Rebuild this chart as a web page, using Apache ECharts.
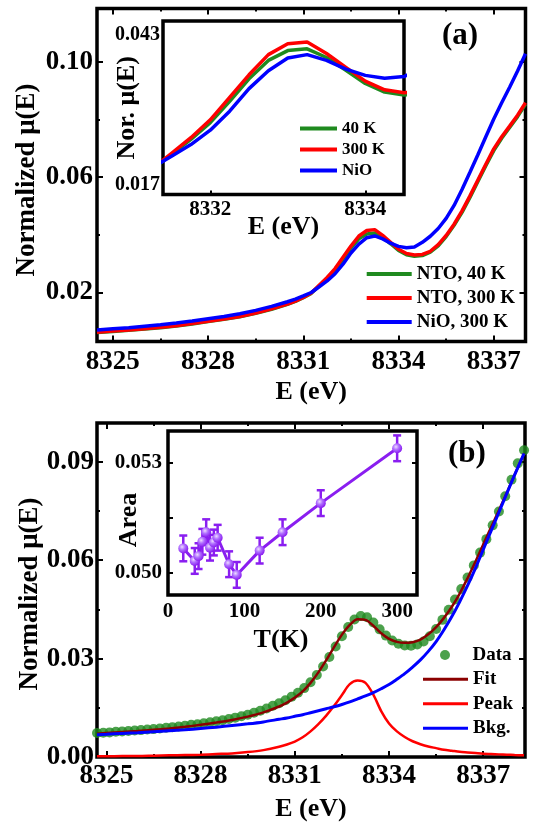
<!DOCTYPE html>
<html>
<head>
<meta charset="utf-8">
<script src="https://cdn.jsdelivr.net/npm/echarts@6/dist/echarts.min.js"></script>
<style>
  html, body { margin: 0; padding: 0; background: #fff; }
  #chart { width: 534px; height: 825px; }
</style>
</head>
<body>
<div id="chart"></div>
<script>
// ---------- Panel (a): Ni K pre-edge of NTO (40 K, 300 K) and NiO ----------
const energyA = [8324.5, 8325.0, 8325.5, 8326.0, 8326.5, 8327.0, 8327.5, 8328.0, 8328.5, 8329.0,
  8329.5, 8330.0, 8330.5, 8330.75, 8331.0, 8331.25, 8331.5, 8331.75, 8332.0, 8332.25,
  8332.5, 8332.75, 8333.0, 8333.25, 8333.5, 8333.75, 8334.0, 8334.25, 8334.5, 8334.75,
  8335.0, 8335.25, 8335.5, 8335.75, 8336.0, 8336.25, 8336.5, 8336.75, 8337.0, 8337.25,
  8337.5, 8337.75, 8338.0];
const muNto40 = [0.0061, 0.0065, 0.0069, 0.0073, 0.0078, 0.0084, 0.0091, 0.0099, 0.0107, 0.0116,
  0.0128, 0.0142, 0.0159, 0.0169, 0.0182, 0.0197, 0.0223, 0.0249, 0.0278, 0.0315,
  0.0354, 0.0386, 0.0403, 0.0406, 0.0391, 0.0369, 0.0346, 0.0331, 0.0326, 0.0328,
  0.0340, 0.0362, 0.0394, 0.0433, 0.0478, 0.0530, 0.0585, 0.0640, 0.0692, 0.0735,
  0.0772, 0.0810, 0.0853];
const muNto300 = [0.0062, 0.0066, 0.0070, 0.0074, 0.0079, 0.0085, 0.0092, 0.0100, 0.0108, 0.0117,
  0.0129, 0.0143, 0.0160, 0.0170, 0.0183, 0.0198, 0.0225, 0.0252, 0.0283, 0.0322,
  0.0361, 0.0396, 0.0415, 0.0418, 0.0398, 0.0374, 0.0350, 0.0335, 0.0330, 0.0332,
  0.0343, 0.0366, 0.0398, 0.0437, 0.0483, 0.0535, 0.0590, 0.0645, 0.0698, 0.0740,
  0.0777, 0.0815, 0.0858];
const muNiO = [0.0070, 0.0074, 0.0078, 0.0083, 0.0088, 0.0094, 0.0101, 0.0109, 0.0117, 0.0126,
  0.0138, 0.0152, 0.0168, 0.0177, 0.0188, 0.0200, 0.0220, 0.0240, 0.0265, 0.0298,
  0.0337, 0.0368, 0.0390, 0.0396, 0.0386, 0.0371, 0.0360, 0.0355, 0.0358, 0.0374,
  0.0395, 0.0422, 0.0457, 0.0502, 0.0557, 0.0617, 0.0678, 0.0740, 0.0802, 0.0858,
  0.0912, 0.0968, 0.1028];

const ticksAx = [8325, 8328, 8331, 8334, 8337];
const minorAx = [8326.5, 8329.5, 8332.5, 8335.5];
const ticksAy = [0.02, 0.06, 0.10];
const minorAy = [0.04, 0.08];
const insetATicksX = [8332, 8334];
const insetALabelsY = [0.017, 0.043];

// ---------- Panel (b): pre-edge fit (peak + background) and peak area vs T ----------
const energyB = [8324.7, 8324.9, 8325.1, 8325.3, 8325.5, 8325.7, 8325.9, 8326.1, 8326.3, 8326.5,
  8326.7, 8326.9, 8327.1, 8327.3, 8327.5, 8327.7, 8327.9, 8328.1, 8328.3, 8328.5,
  8328.7, 8328.9, 8329.1, 8329.3, 8329.5, 8329.7, 8329.9, 8330.1, 8330.3, 8330.5,
  8330.7, 8330.9, 8331.1, 8331.3, 8331.5, 8331.7, 8331.9, 8332.1, 8332.3, 8332.5,
  8332.7, 8332.9, 8333.1, 8333.3, 8333.5, 8333.7, 8333.9, 8334.1, 8334.3, 8334.5,
  8334.7, 8334.9, 8335.1, 8335.3, 8335.5, 8335.7, 8335.9, 8336.1, 8336.3, 8336.5,
  8336.7, 8336.9, 8337.1, 8337.3, 8337.5, 8337.7, 8337.9, 8338.1, 8338.3];
const muData = [0.0073, 0.0074, 0.0075, 0.0077, 0.0078, 0.0079, 0.0081, 0.0082, 0.0084, 0.0085,
  0.0087, 0.0089, 0.0091, 0.0093, 0.0095, 0.0098, 0.0100, 0.0103, 0.0106, 0.0109,
  0.0112, 0.0116, 0.0120, 0.0124, 0.0129, 0.0135, 0.0141, 0.0148, 0.0156, 0.0164,
  0.0173, 0.0184, 0.0196, 0.0210, 0.0228, 0.0250, 0.0276, 0.0305, 0.0337, 0.0368,
  0.0396, 0.0419, 0.0430, 0.0426, 0.0410, 0.0389, 0.0370, 0.0355, 0.0345, 0.0340,
  0.0339, 0.0343, 0.0352, 0.0368, 0.0390, 0.0418, 0.0449, 0.0480, 0.0512, 0.0547,
  0.0584, 0.0623, 0.0664, 0.0706, 0.0748, 0.0795, 0.0845, 0.0895, 0.0935];

const energyFit = [8324.7, 8325.0, 8325.5, 8326.0, 8326.5, 8327.0, 8327.5, 8328.0, 8328.5, 8329.0,
  8329.5, 8330.0, 8330.5, 8330.75, 8331.0, 8331.25, 8331.5, 8331.75, 8332.0, 8332.25,
  8332.5, 8332.75, 8333.0, 8333.25, 8333.5, 8333.75, 8334.0, 8334.25, 8334.5, 8334.75,
  8335.0, 8335.25, 8335.5, 8335.75, 8336.0, 8336.25, 8336.5, 8336.75, 8337.0, 8337.25,
  8337.5, 8337.75, 8338.0, 8338.3];
const muFit = [0.0071, 0.0073, 0.0076, 0.0079, 0.0083, 0.0087, 0.0092, 0.0098, 0.0105, 0.0113,
  0.0123, 0.0136, 0.0154, 0.0166, 0.0181, 0.0200, 0.0226, 0.0258, 0.0295, 0.0335,
  0.0373, 0.0403, 0.0420, 0.0418, 0.0400, 0.0377, 0.0360, 0.0351, 0.0348, 0.0350,
  0.0358, 0.0374, 0.0396, 0.0424, 0.0458, 0.0498, 0.0545, 0.0595, 0.0648, 0.0700,
  0.0752, 0.0805, 0.0860, 0.0925];
const muPeak = [0.0002, 0.0002, 0.0003, 0.0003, 0.0004, 0.0005, 0.0006, 0.0007, 0.0009, 0.0011,
  0.0015, 0.0021, 0.0031, 0.0038, 0.0047, 0.0060, 0.0078, 0.0100, 0.0126, 0.0156,
  0.0189, 0.0222, 0.0233, 0.0226, 0.0190, 0.0140, 0.0102, 0.0078, 0.0061, 0.0048,
  0.0039, 0.0032, 0.0027, 0.0022, 0.0019, 0.0016, 0.0014, 0.0012, 0.0010, 0.0009,
  0.0008, 0.0007, 0.0006, 0.0005];
const muBkg = [0.0068, 0.0069, 0.0072, 0.0074, 0.0077, 0.0080, 0.0083, 0.0087, 0.0091, 0.0096,
  0.0101, 0.0107, 0.0115, 0.0119, 0.0124, 0.0129, 0.0135, 0.0141, 0.0147, 0.0153,
  0.0160, 0.0168, 0.0177, 0.0186, 0.0196, 0.0208, 0.0221, 0.0237, 0.0254, 0.0274,
  0.0296, 0.0322, 0.0352, 0.0388, 0.0428, 0.0473, 0.0522, 0.0575, 0.0632, 0.0689,
  0.0746, 0.0803, 0.0860, 0.0925];

const ticksBx = [8325, 8328, 8331, 8334, 8337];
const minorBx = [8326.5, 8329.5, 8332.5, 8335.5];
const ticksBy = [0.00, 0.03, 0.06, 0.09];
const minorBy = [0.015, 0.045, 0.075];

const temps = [20, 35, 40, 45, 50, 55, 60, 65, 80, 90, 120, 150, 200, 300];
const area = [0.05066, 0.05032, 0.05045, 0.05084, 0.05110, 0.05068, 0.05082, 0.05095, 0.05023,
  0.04994, 0.05060, 0.05110, 0.05189, 0.05338];
const areaErr = [0.00035, 0.00035, 0.00035, 0.00035, 0.00035, 0.00035, 0.00035, 0.00035, 0.00035,
  0.00035, 0.00035, 0.00035, 0.00035, 0.00035];
const insetBLabelsX = [0, 100, 200, 300];
const insetBTicksY = [0.050, 0.0515, 0.053];
const insetBLabelsY = [0.050, 0.053];

// ---------- styling helpers ----------
const FONT = '"Liberation Serif", "Times New Roman", serif';
const GREEN = '#1f8a1f', RED = '#ff0000', BLUE = '#0000ff', DARKRED = '#8b0000', VIOLET = '#8a1ef0';

const xAxes = [], yAxes = [];

// one value axis; extra copies are used only to draw ticks on the other sides
function addAxis(list, o) {
  list.push({
    type: 'value', gridIndex: o.grid, min: o.min, max: o.max, position: o.pos,
    axisLine: { show: false, onZero: false },
    axisTick: o.ticks ? { show: true, inside: true, length: o.len, customValues: o.ticks,
      lineStyle: { color: '#000', width: 2 } } : { show: false },
    axisLabel: o.labels ? {
      show: true, customValues: o.labels, formatter: o.fmt, margin: o.margin,
      fontSize: o.fs, fontWeight: 'bold', fontFamily: FONT, color: '#000'
    } : { show: false },
    splitLine: { show: false },
    name: o.name || '', nameLocation: 'middle', nameGap: o.nameGap || 0,
    nameRotate: o.rotate || 0, nameMoveOverlap: false,
    nameTextStyle: { fontSize: o.nfs || 26, fontWeight: 'bold', fontFamily: FONT, color: '#000',
      padding: o.npad || 0 }
  });
  return list.length - 1;
}
const fmtInt = v => String(Math.round(v));
const fmt2 = v => v.toFixed(2);
const fmt3 = v => v.toFixed(3);

// grid 0: panel (a) main
const A_X = [8324.5, 8338.0], A_Y = [0.003, 0.1185];
const ax0 = addAxis(xAxes, { grid: 0, min: A_X[0], max: A_X[1], pos: 'bottom', ticks: ticksAx, len: 6,
  labels: ticksAx, fmt: fmtInt, fs: 27, margin: 7, name: 'E (eV)', nameGap: 38 });
addAxis(xAxes, { grid: 0, min: A_X[0], max: A_X[1], pos: 'bottom', ticks: minorAx, len: 3 });
addAxis(xAxes, { grid: 0, min: A_X[0], max: A_X[1], pos: 'top', ticks: ticksAx, len: 6 });
addAxis(xAxes, { grid: 0, min: A_X[0], max: A_X[1], pos: 'top', ticks: minorAx, len: 3 });
const ay0 = addAxis(yAxes, { grid: 0, min: A_Y[0], max: A_Y[1], pos: 'left', ticks: ticksAy, len: 6,
  labels: ticksAy, fmt: fmt2, fs: 27, margin: 4, name: 'Normalized μ(E)', nameGap: 56, rotate: 90, nfs: 27,
  npad: [0, 10, 0, 0] });
addAxis(yAxes, { grid: 0, min: A_Y[0], max: A_Y[1], pos: 'left', ticks: minorAy, len: 3 });
addAxis(yAxes, { grid: 0, min: A_Y[0], max: A_Y[1], pos: 'right', ticks: ticksAy, len: 6 });
addAxis(yAxes, { grid: 0, min: A_Y[0], max: A_Y[1], pos: 'right', ticks: minorAy, len: 3 });

// grid 1: panel (a) inset
const AI_X = [8331.39, 8334.5], AI_Y = [0.01535, 0.04543];
const ax1 = addAxis(xAxes, { grid: 1, min: AI_X[0], max: AI_X[1], pos: 'bottom', ticks: insetATicksX, len: 4,
  labels: insetATicksX, fmt: fmtInt, fs: 21, margin: 5, name: 'E (eV)', nameGap: 20 });
const ay1 = addAxis(yAxes, { grid: 1, min: AI_Y[0], max: AI_Y[1], pos: 'left',
  labels: insetALabelsY, fmt: fmt3, fs: 20, margin: 3, name: 'Nor. μ(E)', nameGap: 23, rotate: 90 });

// grid 2: panel (b) main
const B_X = [8324.7, 8338.33], B_Y = [0, 0.1018];
const ax2 = addAxis(xAxes, { grid: 2, min: B_X[0], max: B_X[1], pos: 'bottom', ticks: ticksBx, len: 6,
  labels: ticksBx, fmt: fmtInt, fs: 27, margin: 6, name: 'E (eV)', nameGap: 39 });
addAxis(xAxes, { grid: 2, min: B_X[0], max: B_X[1], pos: 'bottom', ticks: minorBx, len: 3 });
addAxis(xAxes, { grid: 2, min: B_X[0], max: B_X[1], pos: 'top', ticks: ticksBx, len: 6 });
addAxis(xAxes, { grid: 2, min: B_X[0], max: B_X[1], pos: 'top', ticks: minorBx, len: 3 });
const ay2 = addAxis(yAxes, { grid: 2, min: B_Y[0], max: B_Y[1], pos: 'left', ticks: ticksBy, len: 6,
  labels: ticksBy, fmt: fmt2, fs: 27, margin: 3, name: 'Normalized μ(E)', nameGap: 53, rotate: 90, nfs: 27,
  npad: [0, 8, 0, 0] });
addAxis(yAxes, { grid: 2, min: B_Y[0], max: B_Y[1], pos: 'left', ticks: minorBy, len: 3 });
addAxis(yAxes, { grid: 2, min: B_Y[0], max: B_Y[1], pos: 'right', ticks: ticksBy, len: 6 });
addAxis(yAxes, { grid: 2, min: B_Y[0], max: B_Y[1], pos: 'right', ticks: minorBy, len: 3 });

// grid 3: panel (b) inset
const BI_X = [0, 326], BI_Y = [0.049394, 0.05385];
const ax3 = addAxis(xAxes, { grid: 3, min: BI_X[0], max: BI_X[1], pos: 'bottom',
  labels: insetBLabelsX, fmt: fmtInt, fs: 21, margin: 6, name: 'T(K)', nameGap: 32, npad: [0, 23, 0, 0] });
const ay3 = addAxis(yAxes, { grid: 3, min: BI_Y[0], max: BI_Y[1], pos: 'left', ticks: insetBTicksY, len: 5,
  labels: insetBLabelsY, fmt: fmt3, fs: 21, margin: 6, name: 'Area', nameGap: 26, rotate: 90,
  npad: [0, 14, 0, 0] });
addAxis(yAxes, { grid: 3, min: BI_Y[0], max: BI_Y[1], pos: 'right', ticks: insetBTicksY, len: 5 });

const frame = { show: true, borderColor: '#000', borderWidth: 3.5, backgroundColor: '#fff' };
const grids = [
  Object.assign({ left: 97, top: 8.5, width: 428.5, height: 333 }, frame),
  Object.assign({ left: 163, top: 21, width: 241, height: 173.5 }, frame),
  Object.assign({ left: 97, top: 423, width: 428, height: 334 }, frame),
  Object.assign({ left: 168, top: 431, width: 249, height: 164 }, frame)
];

function pairs(xs, ys) { return xs.map((x, i) => [x, ys[i]]); }
function curve(name, xi, yi, xs, ys, color, width, smooth) {
  return {
    name, type: 'line', xAxisIndex: xi, yAxisIndex: yi, data: pairs(xs, ys),
    showSymbol: false, symbol: 'none', smooth: smooth || false, clip: true,
    lineStyle: { color, width }, itemStyle: { color }
  };
}

const violetBall = {
  type: 'radial', x: 0.38, y: 0.35, r: 0.65,
  colorStops: [{ offset: 0, color: '#eedcff' }, { offset: 0.45, color: '#b070ff' }, { offset: 1, color: VIOLET }]
};

const series = [
  curve('NTO, 40 K', ax0, ay0, energyA, muNto40, GREEN, 3.5),
  curve('NTO, 300 K', ax0, ay0, energyA, muNto300, RED, 3.5),
  curve('NiO, 300 K', ax0, ay0, energyA, muNiO, BLUE, 3.5),
  curve('40 K', ax1, ay1, energyA, muNto40, GREEN, 3.5),
  curve('300 K', ax1, ay1, energyA, muNto300, RED, 3.5),
  curve('NiO', ax1, ay1, energyA, muNiO, BLUE, 3.5),
  {
    name: 'Data', type: 'scatter', xAxisIndex: ax2, yAxisIndex: ay2, data: pairs(energyB, muData),
    symbol: 'circle', symbolSize: 10, itemStyle: { color: GREEN }
  },
  curve('Fit', ax2, ay2, energyFit, muFit, DARKRED, 2.5, 0.3),
  curve('Peak', ax2, ay2, energyFit, muPeak, RED, 2.5, 0.3),
  curve('Bkg.', ax2, ay2, energyFit, muBkg, BLUE, 3, 0.3),
  {
    name: 'AreaErr', type: 'custom', xAxisIndex: ax3, yAxisIndex: ay3,
    data: temps.map((t, i) => [t, area[i] - areaErr[i], area[i] + areaErr[i]]),
    encode: { x: 0, y: [1, 2] },
    renderItem(params, api) {
      const t = api.value(0);
      const lo = api.coord([t, api.value(1)]);
      const hi = api.coord([t, api.value(2)]);
      const cap = 4;
      const st = { stroke: VIOLET, lineWidth: 2.5 };
      return {
        type: 'group', children: [
          { type: 'line', shape: { x1: lo[0], y1: lo[1], x2: hi[0], y2: hi[1] }, style: st },
          { type: 'line', shape: { x1: lo[0] - cap, y1: lo[1], x2: lo[0] + cap, y2: lo[1] }, style: st },
          { type: 'line', shape: { x1: hi[0] - cap, y1: hi[1], x2: hi[0] + cap, y2: hi[1] }, style: st }
        ]
      };
    }
  },
  {
    name: 'Area', type: 'line', xAxisIndex: ax3, yAxisIndex: ay3, data: pairs(temps, area),
    symbol: 'circle', symbolSize: 10, showSymbol: true,
    lineStyle: { color: VIOLET, width: 3 }, itemStyle: { color: violetBall, borderWidth: 0 }
  }
];

const legendText = (fs) => ({ fontSize: fs, lineHeight: fs, fontWeight: 'bold', fontFamily: FONT, color: '#000' });
const legends = [
  { data: ['NTO, 40 K', 'NTO, 300 K', 'NiO, 300 K'], left: 366.7, top: 264.5, orient: 'vertical',
    icon: 'rect', itemWidth: 45, itemHeight: 4, itemGap: 5, padding: 0, selectedMode: false,
    textStyle: legendText(19) },
  { data: ['40 K', '300 K', 'NiO'], left: 300, top: 120, orient: 'vertical',
    icon: 'rect', itemWidth: 37, itemHeight: 4, itemGap: 4, padding: 0, selectedMode: false,
    textStyle: legendText(17) },
  { data: ['Data'], left: 440, top: 645.5, orient: 'vertical',
    icon: 'circle', itemWidth: 45, itemHeight: 10, padding: 0, selectedMode: false,
    textStyle: legendText(19) },
  { data: ['Fit', 'Peak', 'Bkg.'], left: 423, top: 669.8, orient: 'vertical',
    icon: 'rect', itemWidth: 45, itemHeight: 3, itemGap: 5.5, padding: 0, selectedMode: false,
    textStyle: legendText(19) }
];

const chart = echarts.init(document.getElementById('chart'), null, { renderer: 'canvas' });
chart.setOption({
  animation: false,
  backgroundColor: '#fff',
  grid: grids,
  xAxis: xAxes,
  yAxis: yAxes,
  legend: legends,
  series,
  graphic: [
    { type: 'text', left: 442, top: 20, style: { text: '(a)', font: 'bold 31px ' + FONT, fill: '#000' } },
    { type: 'text', left: 448, top: 438, style: { text: '(b)', font: 'bold 31px ' + FONT, fill: '#000' } }
  ]
});
</script>
</body>
</html>
